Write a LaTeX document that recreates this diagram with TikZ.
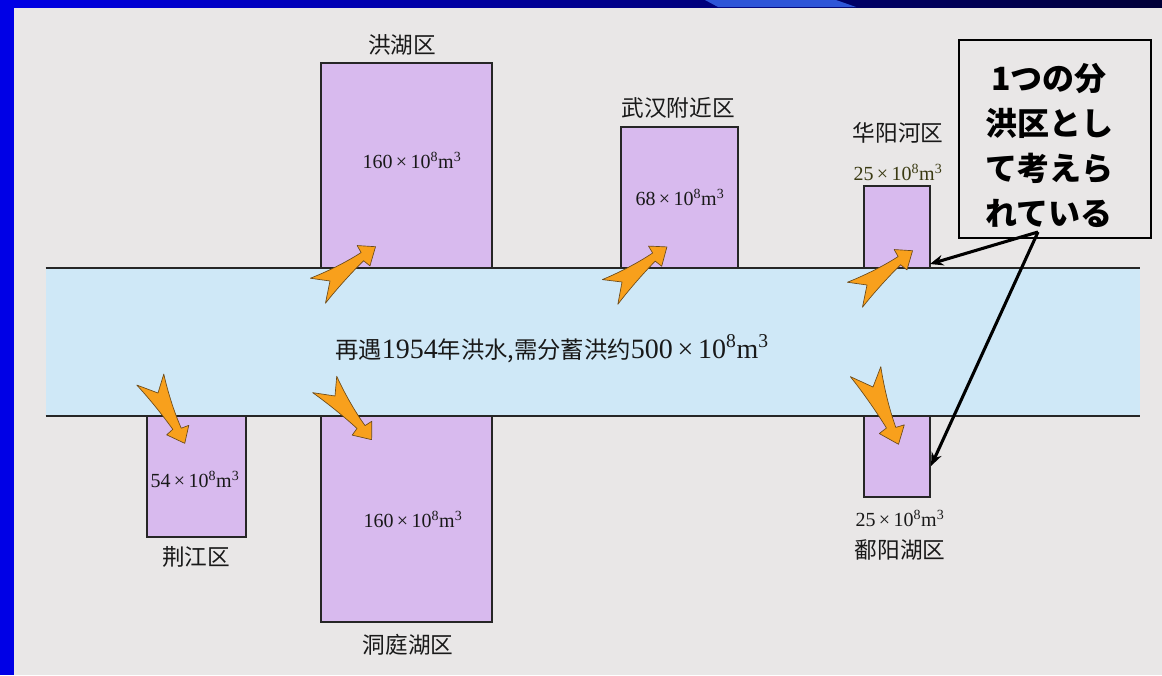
\documentclass[tikz,border=0pt]{standalone}
\usepackage{fontspec}
\setmainfont{Liberation Serif}
\newfontfamily\zh{Noto Sans CJK SC}
\newfontfamily\jp{Noto Sans CJK JP}
\usetikzlibrary{arrows.meta}
\definecolor{bgc}{HTML}{E9E7E7}
\definecolor{riverc}{HTML}{CFE8F7}
\definecolor{zonec}{HTML}{D8BAEE}
\definecolor{orngc}{HTML}{F8A01C}
\definecolor{orngedge}{HTML}{6B4A1A}
\definecolor{slideblue}{HTML}{0000E6}
\definecolor{navyc}{HTML}{000038}
\definecolor{lightbar}{HTML}{2E55D8}
\definecolor{olivec}{HTML}{3A3A12}
\newcommand\zlab[1]{{\zh\fontsize{17}{20}\selectfont #1}}
\newcommand\vol[1]{{\fontsize{15}{18}\selectfont #1\,\texttimes\,10\textsuperscript{8}m\textsuperscript{3}}}
\newcommand\orarrow[3]{%
  \begin{scope}[shift={(#1)},rotate=#2,scale=#3]
    \filldraw[orarrow] (-14,-14) .. controls (8,-8) and (28,-5) .. (42,-4) -- (43,-12) -- (57,0) -- (41,12) -- (39,4) .. controls (24,6) and (2,10) .. (-17,15) -- (0,0) -- cycle;
  \end{scope}}
\tikzset{
  zone/.style={rectangle, draw=black!85, fill=zonec, line width=0.9pt, inner sep=0pt},
  lab/.style={inner sep=0pt, text=black!90},
  volt/.style={inner sep=0pt, anchor=base, text=black!90},
  orarrow/.style={fill=orngc, draw=orngedge, line width=0.5pt, line join=round},
  riverline/.style={line width=1.3pt, draw=black!85},
  callarrow/.style={line width=2.3pt, -{Stealth[length=10pt,width=8pt]}},
  notebox/.style={rectangle, draw=black, line width=1.3pt, inner sep=0pt, minimum width=144pt, minimum height=148.5pt},
  notetext/.style={align=center, inner sep=0pt, font=\jp\bfseries\fontsize{24}{33.75}\selectfont}
}
\begin{document}
\begin{tikzpicture}[x=0.75pt,y=-0.75pt]
\useasboundingbox (0,0) rectangle (1162,675);
\fill[bgc] (0,0) rectangle (1162,675);
\shade[left color=slideblue, right color=navyc] (0,0) rectangle (1162,7);
\fill[lightbar] (705,0) -- (836,0) -- (856,7) -- (718,7) -- cycle;
\fill[slideblue] (0,0) rectangle (14,675);

% zones
\node[zone, minimum width=128.25pt, minimum height=153.75pt] (hh) at (406.5,165.5) {};
\node[zone, minimum width=87.75pt, minimum height=105.75pt] (wh) at (679.5,197.5) {};
\node[zone, minimum width=49.5pt, minimum height=61.5pt] (hy) at (897,227) {};
\node[zone, minimum width=74.25pt, minimum height=90.75pt] (jj) at (196.5,476.5) {};
\node[zone, minimum width=128.25pt, minimum height=154.5pt] (dt) at (406.5,519) {};
\node[zone, minimum width=49.5pt, minimum height=60.75pt] (py) at (897,456.5) {};

% river
\node[rectangle, fill=riverc, inner sep=0pt, minimum width=820.5pt, minimum height=111pt] (river) at (593,342) {};
\draw[riverline] (river.north west) -- (river.north east);
\draw[riverline] (river.south west) -- (river.south east);

% orange arrows
\orarrow{330,281}{37}{1}
\orarrow{622,282}{38}{1}
\orarrow{867,285}{37}{1}
\orarrow{158,393}{-62}{1}
\orarrow{335,396}{-50}{1}
\orarrow{873,387}{-66}{1.1}

% labels
\node[lab] (hhl) at (402,45) {\zlab{洪湖区}};
\node[lab] (whl) at (678,108) {\zlab{武汉附近区}};
\node[lab] (hyl) at (898,133) {\zlab{华阳河区}};
\node[lab] (jjl) at (196,557) {\zlab{荆江区}};
\node[lab] (dtl) at (408,645) {\zlab{洞庭湖区}};
\node[lab] (pyl) at (900,550) {\zlab{鄱阳湖区}};

\node[volt] (hhv) at (412,168) {\vol{160}};
\node[volt] (whv) at (680,205) {\vol{68}};
\node[volt, text=olivec] (hyv) at (898,180) {\vol{25}};
\node[volt] (jjv) at (195,487) {\vol{54}};
\node[volt] (dtv) at (413,527) {\vol{160}};
\node[volt] (pyv) at (900,526) {\vol{25}};

\node[volt] (rivt) at (552,358) {{\zh\fontsize{17.5}{20}\selectfont 再遇}{\fontsize{21}{24}\selectfont 1954}{\zh\fontsize{17.5}{20}\selectfont 年洪水,需分蓄洪约}{\fontsize{21}{24}\selectfont 500\,\texttimes\,10\textsuperscript{8}m\textsuperscript{3}}};

% callout
\node[notebox] (note) at (1055,139) {};
\node[notetext] (notet) at (1049,145) {1つの分\\洪区とし\\て考えら\\れている};
\coordinate (src) at (1038,232);
\coordinate (t1) at (930,264);
\coordinate (t2) at (931,466);
\draw[callarrow] (src) -- (t1);
\draw[callarrow] (src) -- (t2);
\end{tikzpicture}
\end{document}
